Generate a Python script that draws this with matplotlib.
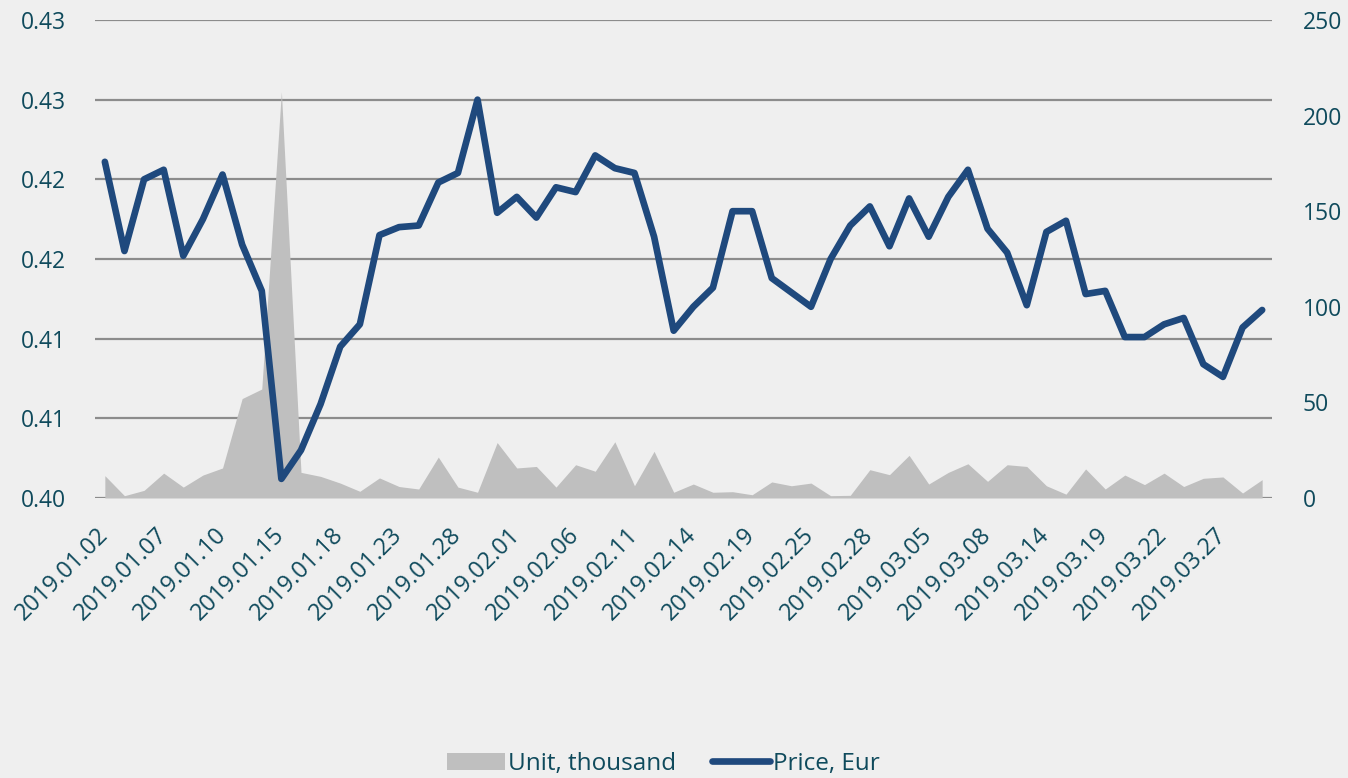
import numpy as np
import matplotlib
matplotlib.use("Agg")
import matplotlib.pyplot as plt
from matplotlib.patches import Patch
from matplotlib.lines import Line2D

# ---- data ----
dates = [
    "2019.01.02", "2019.01.03", "2019.01.04", "2019.01.07", "2019.01.08", "2019.01.09",
    "2019.01.10", "2019.01.11", "2019.01.14", "2019.01.15", "2019.01.16", "2019.01.17",
    "2019.01.18", "2019.01.21", "2019.01.22", "2019.01.23", "2019.01.24", "2019.01.25",
    "2019.01.28", "2019.01.29", "2019.01.30", "2019.02.01", "2019.02.04", "2019.02.05",
    "2019.02.06", "2019.02.07", "2019.02.08", "2019.02.11", "2019.02.12", "2019.02.13",
    "2019.02.14", "2019.02.15", "2019.02.18", "2019.02.19", "2019.02.20", "2019.02.21",
    "2019.02.25", "2019.02.26", "2019.02.27", "2019.02.28", "2019.03.01", "2019.03.04",
    "2019.03.05", "2019.03.06", "2019.03.07", "2019.03.08", "2019.03.11", "2019.03.12",
    "2019.03.14", "2019.03.15", "2019.03.18", "2019.03.19", "2019.03.20", "2019.03.21",
    "2019.03.22", "2019.03.25", "2019.03.26", "2019.03.27", "2019.03.28", "2019.03.29",
]

price = [
    0.4211, 0.4155, 0.4200, 0.4206, 0.4152, 0.4175, 0.4203, 0.4159, 0.4130, 0.4012,
    0.4030, 0.4059, 0.4095, 0.4109, 0.4165, 0.4170, 0.4171, 0.4198, 0.4204, 0.4250,
    0.4179, 0.4189, 0.4176, 0.4195, 0.4192, 0.4215, 0.4207, 0.4204, 0.4164, 0.4105,
    0.4120, 0.4132, 0.4180, 0.4180, 0.4138, 0.4129, 0.4120, 0.4150, 0.4171, 0.4183,
    0.4158, 0.4188, 0.4164, 0.4189, 0.4206, 0.4169, 0.4154, 0.4121, 0.4167, 0.4174,
    0.4128, 0.4130, 0.4101, 0.4101, 0.4109, 0.4113, 0.4084, 0.4076, 0.4107, 0.4118,
]

units = [
    11.7, 1.2, 4.0, 13.0, 5.7, 12.0, 15.7, 52.0, 57.0, 212.5,
    13.4, 11.3, 7.8, 3.5, 10.5, 6.0, 4.7, 21.4, 5.7, 3.0,
    29.0, 15.7, 16.5, 5.7, 17.4, 14.0, 29.4, 6.4, 24.4, 3.0,
    7.3, 3.0, 3.3, 1.7, 8.4, 6.4, 7.8, 1.2, 1.4, 14.8,
    12.2, 22.3, 7.3, 13.4, 17.9, 8.7, 17.4, 16.5, 6.4, 2.0,
    15.2, 4.7, 12.0, 7.0, 13.0, 6.0, 10.3, 11.0, 2.6, 9.6,
]

left_ticks = [0.400, 0.405, 0.410, 0.415, 0.420, 0.425, 0.430]
left_labels = ["0.40", "0.41", "0.41", "0.42", "0.42", "0.43", "0.43"]
right_ticks = [0, 50, 100, 150, 200, 250]

# ---- style ----
BG = "#efefef"
TXT = "#0f4a5c"
LINE_C = "#1f497d"
AREA_C = "#bfbfbf"
GRID_C = "#8c8c8c"
FS = 16.5

plt.rcParams["font.family"] = ["Open Sans", "DejaVu Sans"]

x = np.arange(len(dates))

fig = plt.figure(figsize=(13.48, 7.78), dpi=100, facecolor=BG)
ax = fig.add_axes([0.0705, 0.3599, 0.8731, 0.6144])
ax.set_facecolor(BG)

# units area on right axis
ax2 = ax.twinx()
ax2.fill_between(x, units, 0, color=AREA_C, lw=0, zorder=2)
ax2.set_ylim(0, 250)
ax2.set_yticks(right_ticks)

# price line on its own twin so it sits over the area
ax3 = ax.twinx()
ax3.plot(x, price, color=LINE_C, lw=4.8, solid_capstyle="round", solid_joinstyle="round")
ax3.set_ylim(0.400, 0.430)
ax3.set_yticks([])

ax.set_ylim(0.400, 0.430)
ax.set_yticks(left_ticks)
ax.set_yticklabels(left_labels)
ax.grid(axis="y", color=GRID_C, lw=1.6)
ax.set_axisbelow(True)

for a in (ax, ax2, ax3):
    a.set_xlim(-0.5, len(dates) - 0.5)
    for s in a.spines.values():
        s.set_visible(False)
    a.tick_params(length=0, labelsize=FS, labelcolor=TXT)

ax.tick_params(axis="y", pad=21)
ax2.tick_params(axis="y", pad=22)

ax.set_xticks(x[::3])
ax.set_xticklabels(dates[::3], rotation=45, ha="right", va="center",
                   rotation_mode="anchor", fontsize=17)
ax.tick_params(axis="x", pad=24)

handles = [Patch(facecolor=AREA_C, edgecolor="none"),
           Line2D([0], [0], color=LINE_C, lw=4.8, solid_capstyle="round")]
fig.legend(handles, ["Unit, thousand", "Price, Eur"], loc="center",
           bbox_to_anchor=(0.492, 0.018), ncol=2, frameon=False,
           fontsize=17.5, labelcolor=TXT, handlelength=2.4, handletextpad=0.1,
           columnspacing=1.5)

fig.savefig("out.png", dpi=100, facecolor=BG)
